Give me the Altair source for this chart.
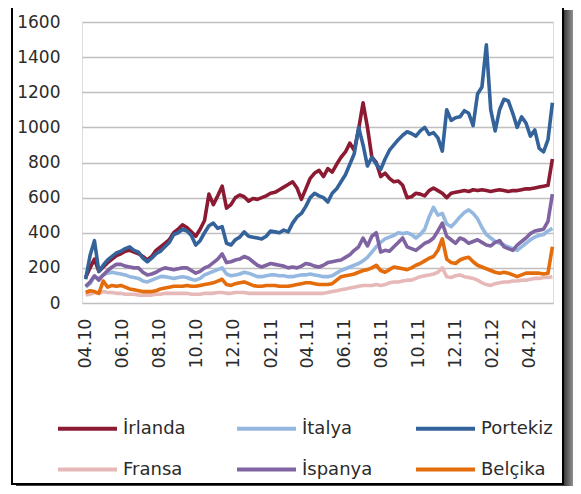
import altair as alt
import pandas as pd

# ---- data -------------------------------------------------------------
series_names = ["İrlanda", "İtalya", "Portekiz", "Fransa", "İspanya", "Belçika"]
series_colors = ["#8B1A32", "#95B8E0", "#33639A", "#E6B9B8", "#8064A2", "#E46C0A"]

# tick months (year, month) labelled as mm.yy
tick_months = [(2010, 4), (2010, 6), (2010, 8), (2010, 10), (2010, 12),
               (2011, 2), (2011, 4), (2011, 6), (2011, 8), (2011, 10), (2011, 12),
               (2012, 2), (2012, 4)]

start_date = "2010-04-01"
end_date = "2012-05-09"
n_points = 107

irlanda = [145, 200, 250, 180, 205, 230, 250, 270, 280, 295,
           300, 290, 280, 265, 245, 265, 300, 320, 340, 360,
           400, 420, 445, 430, 405, 380, 420, 470, 620, 560,
           610, 665, 540, 560, 600, 615, 605, 580, 595, 590,
           600, 610, 625, 630, 645, 660, 675, 690, 655, 590,
           650, 710, 740, 755, 720, 765, 745, 790, 830, 860,
           910, 870, 990, 1140, 1000, 830, 800, 720, 740, 710,
           690, 695, 670, 600, 605, 625, 620, 610, 640, 655,
           640, 625, 600, 625, 630, 635, 640, 635, 645, 640,
           645, 640, 635, 640, 645, 640, 635, 640, 640, 645,
           650, 650, 655, 660, 665, 670, 820]

italya = [90, 110, 150, 140, 160, 170, 175, 170, 165, 160,
          150, 145, 140, 125, 120, 130, 140, 150, 150, 145,
          140, 145, 150, 145, 135, 130, 140, 160, 170, 180,
          190, 200, 165, 155, 160, 165, 175, 170, 160, 150,
          150, 155, 160, 160, 155, 155, 150, 150, 155, 160,
          160, 165, 160, 155, 150, 150, 155, 170, 185, 195,
          205, 215, 225, 240, 260, 290, 320, 345, 365, 375,
          385, 400, 395, 400, 390, 370, 390, 420, 490, 545,
          500, 510, 450, 435, 460, 490, 515, 530, 510, 480,
          430, 390, 370, 350, 340, 330, 320, 310, 300, 320,
          340, 360, 375, 385, 390, 410, 425]

portekiz = [135, 270, 355, 180, 215, 245, 265, 285, 295, 310,
            320, 300, 290, 255, 235, 255, 280, 295, 320, 345,
            390, 400, 420, 410, 385, 330, 355, 400, 440, 455,
            425, 435, 340, 330, 360, 375, 405, 380, 375, 370,
            365, 380, 410, 405, 400, 415, 405, 455, 490, 510,
            550, 600, 625, 610, 600, 575, 625, 650, 690, 730,
            790, 850, 1000, 900, 780, 830, 790, 760, 820, 870,
            900, 930, 955, 975, 965, 950, 980, 1000, 960, 970,
            940, 865, 1100, 1040, 1055, 1060, 1095, 1080, 1010, 1190,
            1230, 1470, 1100, 980, 1100, 1160, 1150, 1080, 1000, 1060,
            1025, 950, 985, 880, 860, 930, 1140]

fransa = [45, 50, 60, 55, 65, 60, 60, 55, 55, 50,
          50, 50, 45, 45, 45, 45, 50, 50, 55, 55,
          55, 55, 55, 55, 50, 50, 50, 55, 55, 55,
          60, 60, 55, 55, 60, 60, 60, 55, 55, 55,
          55, 55, 55, 55, 55, 55, 55, 55, 55, 55,
          55, 55, 55, 55, 55, 60, 65, 70, 75, 80,
          85, 90, 95, 100, 100, 100, 105, 100, 105, 115,
          120, 120, 125, 130, 130, 140, 150, 155, 160, 165,
          175, 200, 150, 145, 155, 160, 150, 145, 140, 130,
          115, 105, 100, 110, 115, 120, 120, 125, 125, 130,
          130, 135, 140, 140, 145, 145, 150]

ispanya = [95, 120, 155, 130, 160, 185, 205, 220, 220, 210,
           205, 200, 200, 175, 160, 165, 175, 190, 200, 195,
           190, 195, 200, 200, 185, 170, 180, 200, 210, 230,
           250, 280, 230, 235, 245, 250, 265, 255, 235, 215,
           205, 215, 225, 220, 215, 210, 200, 205, 200, 210,
           225, 220, 210, 205, 215, 230, 235, 240, 245, 260,
           275, 300, 320, 370, 325, 380, 400, 290, 300, 295,
           320, 345, 370, 320, 310, 300, 320, 340, 350, 370,
           410, 455, 380, 360, 340, 370, 360, 340, 350, 360,
           345, 330, 325, 345, 355, 320, 310, 300, 330, 350,
           370, 395, 410, 415, 420, 465, 620]

belcika = [60, 70, 65, 55, 125, 90, 100, 95, 100, 90,
           80, 75, 70, 65, 65, 65, 70, 80, 85, 90,
           95, 95, 95, 100, 95, 95, 100, 105, 110, 115,
           125, 135, 105, 100, 110, 115, 120, 110, 100, 95,
           95, 100, 100, 100, 95, 95, 95, 100, 105, 110,
           115, 115, 110, 105, 105, 105, 110, 130, 150, 155,
           160, 165, 175, 185, 190, 200, 215, 185, 175, 190,
           205, 200, 195, 190, 200, 215, 225, 240, 255, 265,
           300, 365, 250, 230, 225, 245, 255, 260, 235, 215,
           205, 195, 185, 175, 170, 175, 170, 160, 150, 160,
           170, 170, 170, 170, 165, 170, 320]

series_values = [irlanda, italya, portekiz, fransa, ispanya, belcika]
y_ticks = [0, 200, 400, 600, 800, 1000, 1200, 1400, 1600]

# ---- table ------------------------------------------------------------
dates = pd.date_range(start_date, end_date, periods=n_points)
rows = []
for name, vals in zip(series_names, series_values):
    for d, v in zip(dates, vals):
        rows.append({"date": d, "series": name, "value": v})
df = pd.DataFrame(rows)

FONT = "DejaVu Sans"
TXT = "#2b2b2b"

lines = alt.Chart(df).mark_line(strokeWidth=3.6, strokeJoin="round").encode(
    x=alt.X("date:T",
            scale=alt.Scale(domain=[alt.DateTime(year=2010, month=3, date=26),
                                    alt.DateTime(year=2012, month=5, date=10)]),
            axis=alt.Axis(values=[alt.DateTime(year=y, month=m, date=1) for y, m in tick_months],
                          format="%m.%y", labelAngle=270, title=None, ticks=False,
                          domain=False, grid=False, labelFont=FONT, labelFontSize=17.5,
                          labelColor=TXT, labelPadding=15, labelFlush=False,
                          labelOverlap=False)),
    y=alt.Y("value:Q",
            scale=alt.Scale(domain=[0, 1600], nice=False),
            axis=alt.Axis(values=y_ticks, format="d", title=None, ticks=False, domain=False,
                          labelFont=FONT, labelFontSize=17, labelColor=TXT,
                          labelPadding=22, gridColor="#BFBFBF", gridWidth=1.5)),
    color=alt.Color("series:N",
                    scale=alt.Scale(domain=series_names, range=series_colors),
                    legend=alt.Legend(title=None, orient="none", legendX=-26, legendY=375,
                                      direction="horizontal",
                                      columns=3, symbolType="stroke", symbolSize=3481,
                                      symbolStrokeWidth=4, labelFont=FONT, labelFontSize=18,
                                      labelColor=TXT, columnPadding=34, rowPadding=-29,
                                      gridAlign="all", labelOffset=4)),
)

deco = pd.DataFrame({"k": [0]})
shadow_right = alt.Chart(deco).mark_rect(
    color=alt.LinearGradient(gradient="linear",
                             stops=[alt.GradientStop(color="#3c3c3c", offset=0),
                                    alt.GradientStop(color="#dcdcdc", offset=1)],
                             x1=0, x2=1, y1=0, y2=0)
).encode(x=alt.value(482), x2=alt.value(499), y=alt.value(-12), y2=alt.value(472))
shadow_bottom = alt.Chart(deco).mark_rect(
    color=alt.LinearGradient(gradient="linear",
                             stops=[alt.GradientStop(color="#3c3c3c", offset=0),
                                    alt.GradientStop(color="#dcdcdc", offset=1)],
                             x1=0, x2=0, y1=0, y2=1)
).encode(x=alt.value(-66), x2=alt.value(482), y=alt.value(463), y2=alt.value(474))
frame = alt.Chart(deco).mark_rect(filled=False, stroke="#000000", strokeWidth=2).encode(
    x=alt.value(-70), x2=alt.value(481), y=alt.value(-40), y2=alt.value(462))

chart = alt.layer(shadow_right, shadow_bottom, frame, lines).properties(
    width=471, height=281,
    autosize=alt.AutoSizeParams(type="none"),
    padding={"left": 74, "top": 14, "right": 20, "bottom": 183},
).configure_view(stroke="#BFBFBF", strokeWidth=1.5).configure(background="white")

chart.save("out.html", embed_options={"renderer": "svg", "actions": False})
